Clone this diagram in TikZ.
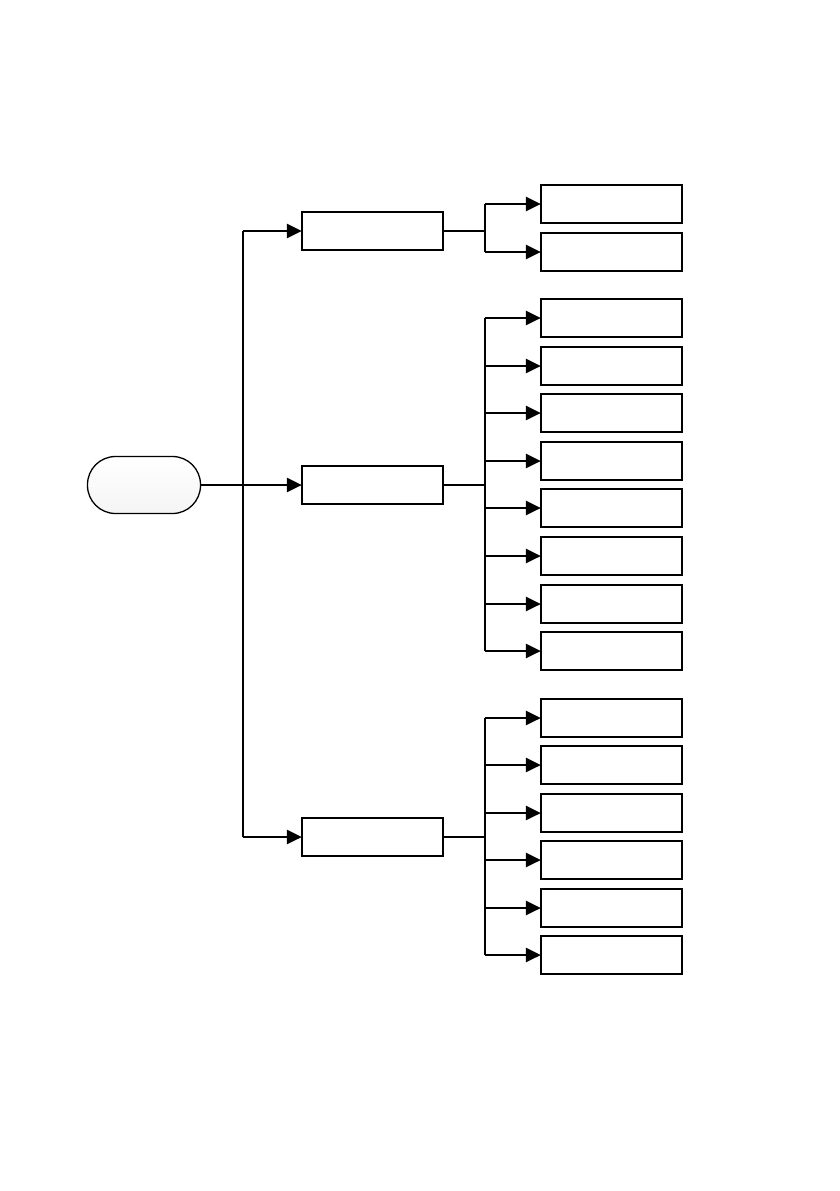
\documentclass[tikz,border=0pt]{standalone}
\usetikzlibrary{arrows.meta}
\begin{document}
\begin{tikzpicture}[x=1pt,y=-1pt,
  leaf/.style={draw,line width=1.2pt,minimum width=141pt,minimum height=38pt,inner sep=0pt,fill=white},
  mid/.style={leaf},
  conn/.style={line width=2.6pt},
  arr/.style={conn,-{Triangle[length=15pt,width=14pt]},shorten >=-0.5pt}]
\useasboundingbox (0,0) rectangle (840,1191);
% root
\node[draw,line width=1.3pt,rounded corners=28pt,minimum width=113pt,minimum height=57pt,inner sep=0pt,
  top color=white,bottom color=blue!3!gray!8] (root) at (144,485) {};
% level 1
\node[mid] (a) at (372.5,231) {};
\node[mid] (b) at (372.5,485) {};
\node[mid] (c) at (372.5,837) {};
\coordinate (t1) at (243,231);
\coordinate (t2) at (243,485);
\coordinate (t3) at (243,837);
\draw[conn] (t1) -- (t3);
\draw[conn] (root.east) -- (t2);
\draw[arr] (t1) -- (a.west);
\draw[arr] (t2) -- (b.west);
\draw[arr] (t3) -- (c.west);
% group A
\foreach \y [count=\i] in {204,252} {
  \node[leaf] (a\i) at (611.5,\y) {};
  \coordinate (ap\i) at (485,\y);
  \draw[arr] (ap\i) -- (a\i.west);
}
\coordinate (aj) at (485,231);
\draw[conn] (ap1) -- (ap2);
\draw[conn] (a.east) -- (aj);
% group B
\foreach \y [count=\i] in {318,366,413,461,508,556,604,651} {
  \node[leaf] (b\i) at (611.5,\y) {};
  \coordinate (bp\i) at (485,\y);
  \draw[arr] (bp\i) -- (b\i.west);
}
\coordinate (bj) at (485,485);
\draw[conn] (bp1) -- (bp8);
\draw[conn] (b.east) -- (bj);
% group C
\foreach \y [count=\i] in {718,765,813,860,908,955} {
  \node[leaf] (c\i) at (611.5,\y) {};
  \coordinate (cp\i) at (485,\y);
  \draw[arr] (cp\i) -- (c\i.west);
}
\coordinate (cj) at (485,837);
\draw[conn] (cp1) -- (cp6);
\draw[conn] (c.east) -- (cj);
\end{tikzpicture}
\end{document}
